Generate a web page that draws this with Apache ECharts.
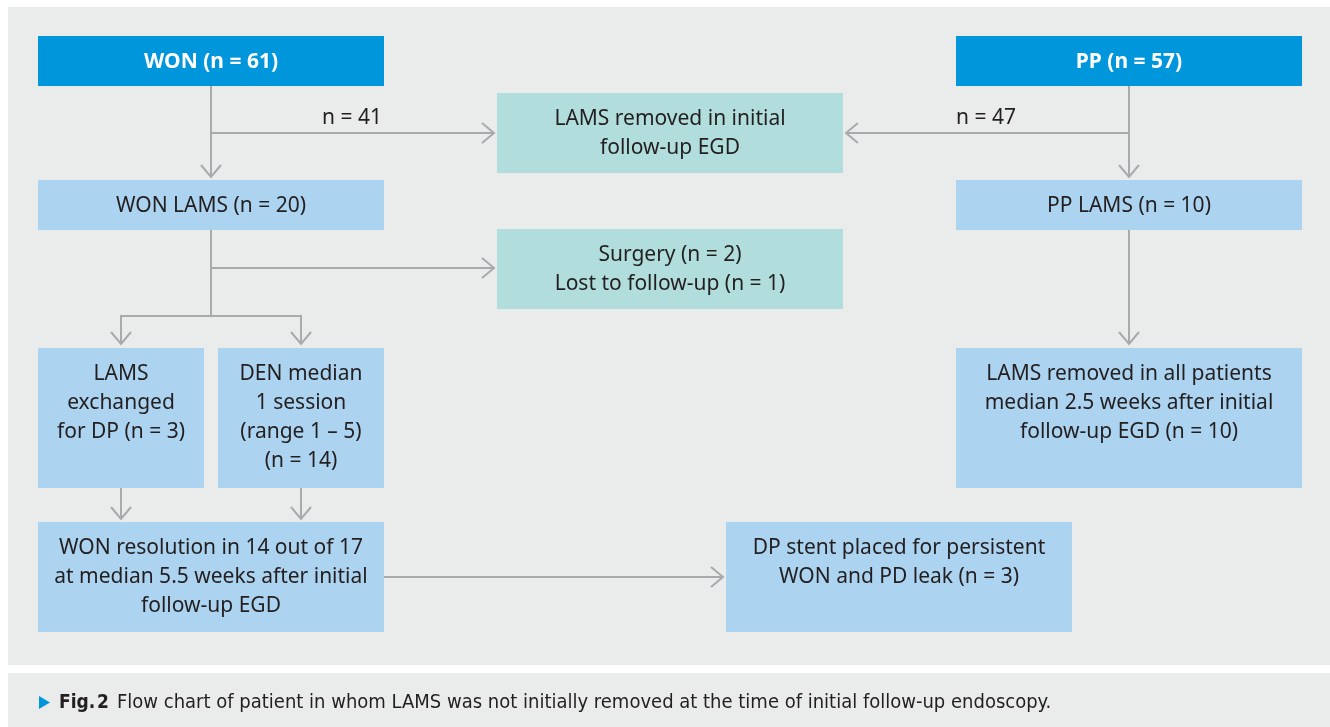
<!DOCTYPE html>
<html>
<head>
<meta charset="utf-8">
<title>Fig. 2 flow chart</title>
<script src="https://cdn.jsdelivr.net/npm/echarts@6/dist/echarts.min.js"></script>
<style>
  html, body { margin: 0; padding: 0; background: #fff; }
  #main { width: 1330px; height: 727px; }
</style>
</head>
<body>
<div id="main"></div>
<script>
// box texts (one entry per box, lines split by \n)
var boxText = [
  'WON (n = 61)',
  'PP (n = 57)',
  'LAMS removed in initial\nfollow-up EGD',
  'WON LAMS (n = 20)',
  'PP LAMS (n = 10)',
  'Surgery (n = 2)\nLost to follow-up (n = 1)',
  'LAMS\nexchanged\nfor DP (n = 3)',
  'DEN median\n1 session\n(range 1 \u2013 5)\n(n = 14)',
  'LAMS removed in all patients\nmedian 2.5 weeks after initial\nfollow-up EGD (n = 10)',
  'WON resolution in 14 out of 17\nat median 5.5 weeks after initial\nfollow-up EGD',
  'DP stent placed for persistent\nWON and PD leak (n = 3)'
];
// box kind: 0 = group header, 1 = step, 2 = exit
var boxKind = [0, 0, 2, 1, 1, 2, 1, 1, 1, 1, 1];
// box layout [x0, y0, x1, y1] in picture units
var boxRect = [
  [38, 36, 384, 86],
  [956, 36, 1302, 86],
  [497, 93, 843, 173],
  [38, 180, 384, 230],
  [956, 180, 1302, 230],
  [497, 229, 843, 309],
  [38, 348, 204, 488],
  [218, 348, 384, 488],
  [956, 348, 1302, 488],
  [38, 522, 384, 632],
  [726, 522, 1072, 632]
];
// connectors: polyline points, arrow at the last point when flagged
var linkPath = [
  [[211, 86], [211, 177]],
  [[211, 133], [494, 133]],
  [[1129, 86], [1129, 177]],
  [[1129, 133], [846, 133]],
  [[211, 230], [211, 316]],
  [[211, 268], [494, 268]],
  [[211, 316], [121, 316], [121, 344]],
  [[211, 316], [301, 316], [301, 344]],
  [[121, 488], [121, 519]],
  [[301, 488], [301, 519]],
  [[384, 577], [723, 577]],
  [[1129, 230], [1129, 344]]
];
var linkArrow = [1, 1, 1, 1, 0, 1, 1, 1, 1, 1, 1, 1];
// edge labels
var edgeLabel = ['n = 41', 'n = 47'];
var edgeLabelPos = [[382, 118, 'right'], [956, 118, 'left']];

var figLabel = 'Fig.\u200a2';
var caption = 'Flow chart of patient in whom LAMS was not initially removed at the time of initial follow-up endoscopy.';

var fillColors = ['#0096db', '#acd3ef', '#b1dedd'];
var lineColor = '#a9aaac';
var font = '"Noto Sans", "Open Sans", sans-serif';
var capFont = '"Liberation Sans Narrow", "DejaVu Sans Condensed", sans-serif';

var chart = echarts.init(document.getElementById('main'), null, { renderer: 'canvas' });

function renderBox(params, api) {
  var i = api.value(0);
  var r = boxRect[i];
  var p0 = api.coord([r[0], r[1]]);
  var p1 = api.coord([r[2], r[3]]);
  var head = boxKind[i] === 0;
  return {
    type: 'group',
    children: [
      {
        type: 'rect',
        shape: { x: p0[0], y: p0[1], width: p1[0] - p0[0], height: p1[1] - p0[1] },
        style: { fill: fillColors[boxKind[i]] }
      },
      {
        type: 'text',
        x: (p0[0] + p1[0]) / 2,
        y: p0[1] + 12,
        style: {
          text: boxText[i],
          align: 'center',
          verticalAlign: 'top',
          fill: head ? '#ffffff' : '#231f20',
          font: (head ? 'bold ' : '') + '21px ' + font,
          lineHeight: 29
        }
      }
    ]
  };
}

function renderLink(params, api) {
  var i = api.value(0);
  var pts = linkPath[i].map(function (p) { return api.coord(p); });
  var children = [{
    type: 'polyline',
    shape: { points: pts },
    style: { stroke: lineColor, lineWidth: 2, fill: null }
  }];
  if (linkArrow[i]) {
    var a = pts[pts.length - 2], b = pts[pts.length - 1];
    var dx = b[0] - a[0], dy = b[1] - a[1];
    var len = Math.sqrt(dx * dx + dy * dy);
    dx /= len; dy /= len;
    var px = -dy, py = dx;
    children.push({
      type: 'polyline',
      shape: { points: [
        [b[0] - 12 * dx + 10 * px, b[1] - 12 * dy + 10 * py],
        b,
        [b[0] - 12 * dx - 10 * px, b[1] - 12 * dy - 10 * py]
      ] },
      style: { stroke: lineColor, lineWidth: 2, fill: null }
    });
  }
  return { type: 'group', children: children };
}

function renderLabel(params, api) {
  var i = api.value(0);
  var p = api.coord([edgeLabelPos[i][0], edgeLabelPos[i][1]]);
  return {
    type: 'text',
    x: p[0], y: p[1],
    style: {
      text: edgeLabel[i],
      align: edgeLabelPos[i][2],
      verticalAlign: 'middle',
      fill: '#231f20',
      font: '21px ' + font
    }
  };
}

function idx(arr) { return arr.map(function (d, i) { return [i]; }); }

var option = {
  animation: false,
  backgroundColor: '#ffffff',
  grid: { left: 0, right: 0, top: 0, bottom: 0 },
  xAxis: { type: 'value', min: 0, max: 1330, show: false },
  yAxis: { type: 'value', min: 0, max: 727, inverse: true, show: false },
  graphic: [
    { type: 'rect', z: -10, shape: { x: 8, y: 7, width: 1322, height: 658 }, style: { fill: '#eaebeb' } },
    { type: 'rect', z: -10, shape: { x: 8, y: 673, width: 1322, height: 54 }, style: { fill: '#eaebeb' } },
    { type: 'polygon', z: 5, shape: { points: [[39, 696], [39, 709], [50, 702.5]] }, style: { fill: '#0096db' } },
    {
      type: 'text', z: 5, x: 59, y: 703,
      style: { text: figLabel, font: 'bold 19px ' + capFont, fill: '#231f20', verticalAlign: 'middle' }
    },
    {
      type: 'text', z: 5, x: 117, y: 703,
      style: { text: caption, font: '20px ' + capFont, fill: '#231f20', verticalAlign: 'middle' }
    }
  ],
  series: [
    { type: 'custom', name: 'links', renderItem: renderLink, data: idx(linkPath), z: 2, silent: true },
    { type: 'custom', name: 'boxes', renderItem: renderBox, data: idx(boxText), z: 3, silent: true },
    { type: 'custom', name: 'labels', renderItem: renderLabel, data: idx(edgeLabel), z: 3, silent: true }
  ]
};

chart.setOption(option);
</script>
</body>
</html>
